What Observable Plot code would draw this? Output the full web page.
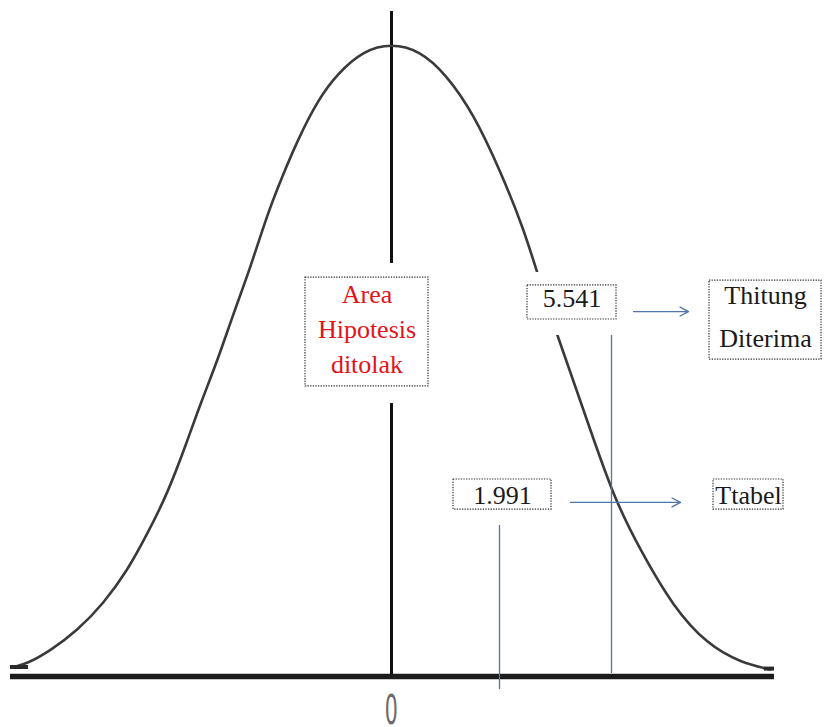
<!DOCTYPE html>
<html><head><meta charset="utf-8">
<script src="https://cdn.jsdelivr.net/npm/d3@7"></script>
<script src="https://cdn.jsdelivr.net/npm/@observablehq/plot@0.6"></script>
<style>html,body{margin:0;padding:0;background:#fff}</style>
</head><body><div id="chart"></div>
<script>
// Hand-drawn bell curve (t units, density units)
const curveT = [-2.669,-2.563,-2.401,-2.211,-2.028,-1.859,-1.718,-1.577,-1.437,-1.345,-1.225,-1.113,-0.993,-0.873,-0.761,-0.662,-0.521,-0.380,-0.197,0,0.197,0.380,0.577,0.768,0.930,1.028,1.169,1.352,1.563,1.754,1.986,2.225,2.458,2.669];
const curveDensity = [0.0057,0.0082,0.0164,0.0291,0.0461,0.0670,0.0904,0.1156,0.1491,0.1725,0.1997,0.2294,0.2585,0.2926,0.3178,0.3387,0.3640,0.3810,0.3956,0.4000,0.3956,0.3810,0.3558,0.3191,0.2831,0.2547,0.2148,0.1687,0.1131,0.0796,0.0436,0.0202,0.0088,0.0044];

// Small thick stubs at both tails of the drawing
const stubT1 = [-2.683, 2.627];
const stubT2 = [-2.556, 2.697];
const stubY = [0.0060, 0.0050];

// Axis extents
const baselineT = [-2.683, 2.697];
const axisTop = 0.4202;
const zeroLabel = "0";
const zeroLabelY = -0.0300;

// Critical values and where they are drawn on the t axis
const criticalLabels = ["1.991", "5.541"];
const criticalT = [0.7606, 1.5493];
const criticalLineTop = [0.0954, 0.2161];
const criticalLineBottom = [-0.0082, 0.0019];
const criticalLabelY = [0.1091, 0.2332];
const criticalBoxT1 = [0.4366, 0.9577];
const criticalBoxT2 = [1.1268, 1.5845];
const criticalBoxY1 = [0.1055, 0.2256];
const criticalBoxY2 = [0.1245, 0.2471];

// Arrows from the values to their names
const arrowT1 = [1.2606, 1.7042];
const arrowT2 = [2.0352, 2.0915];
const arrowY = [0.1100, 0.2306];

// Name boxes
const nameLines = [["Ttabel"], ["Thitung", "Diterima"]];
const nameLineY = [[0.1091], [0.2355, 0.2085]];
const nameCenterT = [2.5141, 2.6338];
const nameBoxT1 = [2.2676, 2.2394];
const nameBoxT2 = [2.7606, 3.0282];
const nameBoxY1 = [0.1055, 0.2003];
const nameBoxY2 = [0.1245, 0.2502];

// Red region label
const areaLines = ["Area", "Hipotesis", "ditolak"];
const areaLineY = [0.2363, 0.2136, 0.1915];
const areaCenterT = -0.1725;
const areaBox = {t1: -0.6056, t2: 0.2606, y1: 0.1833, y2: 0.2521};
const areaHalo = {t1: -0.6549, t2: 0.3099, y1: 0.1725, y2: 0.2610};
const criticalHalo = {t1: 0.9225, t2: 1.6197, y1: 0.2155, y2: 0.2553};

const curve = curveT.map((t, i) => ({t, d: curveDensity[i]}));
const stubs = stubT1.map((t1, i) => ({t1, t2: stubT2[i], y: stubY[i]}));
const crit = criticalLabels.map((label, i) => ({
  label, t: criticalT[i], top: criticalLineTop[i], bottom: criticalLineBottom[i], ly: criticalLabelY[i],
  t1: criticalBoxT1[i], t2: criticalBoxT2[i], y1: criticalBoxY1[i], y2: criticalBoxY2[i],
  tc: (criticalBoxT1[i] + criticalBoxT2[i]) / 2,
  at1: arrowT1[i], at2: arrowT2[i], ay: arrowY[i]
}));
const names = nameLines.flatMap((lines, i) => lines.map((text, j) => ({text, t: nameCenterT[i], y: nameLineY[i][j]})));
const nameBoxes = nameLines.map((_, i) => ({t1: nameBoxT1[i], t2: nameBoxT2[i], y1: nameBoxY1[i], y2: nameBoxY2[i]}));
const area = areaLines.map((text, i) => ({text, t: areaCenterT, y: areaLineY[i]}));

const blue = "#4f75ab";
const serif = "'Liberation Serif', 'Times New Roman', Times, serif";
const boxStyle = {x1: "t1", x2: "t2", y1: "y1", y2: "y2", fill: "white", stroke: "#333", strokeWidth: 1.2, strokeDasharray: "1.3,1.3"};

const plot = Plot.plot({
  width: 826, height: 727, margin: 0,
  x: {domain: [-2.75352, 3.06338], axis: null},
  y: {domain: [-0.032227, 0.427172], axis: null},
  style: {background: "white"},
  marks: [
    Plot.ruleX([0], {y1: 0, y2: axisTop, stroke: "#111", strokeWidth: 3}),
    Plot.line(curve, {x: "t", y: "d", curve: "basis", stroke: "#3a3a3a", strokeWidth: 2.6}),
    Plot.ruleY(stubs, {x1: "t1", x2: "t2", y: "y", stroke: "#2a2a2a", strokeWidth: 4}),
    Plot.ruleY([0], {x1: baselineT[0], x2: baselineT[1], stroke: "#1c1c1c", strokeWidth: 5.5}),
    Plot.ruleX(crit, {x: "t", y1: "bottom", y2: "top", stroke: blue, strokeWidth: 1.3}),
    Plot.rect([areaHalo, criticalHalo], {x1: "t1", x2: "t2", y1: "y1", y2: "y2", fill: "white"}),
    Plot.rect([areaBox], boxStyle),
    Plot.rect(crit, boxStyle),
    Plot.rect(nameBoxes, boxStyle),
    Plot.text(area, {x: "t", y: "y", text: "text", lineAnchor: "bottom", fill: "#e3121b", fontSize: 26, fontFamily: serif}),
    Plot.text(crit, {x: "tc", y: "ly", text: "label", lineAnchor: "bottom", fill: "#1a1a1a", fontSize: 26, fontFamily: serif}),
    Plot.text(names, {x: "t", y: "y", text: "text", lineAnchor: "bottom", fill: "#1a1a1a", fontSize: 26, fontFamily: serif}),
    Plot.arrow(crit, {x1: "at1", x2: "at2", y1: "ay", y2: "ay", stroke: blue, strokeWidth: 1.3, headLength: 11, headAngle: 55}),
    Plot.text([{t: 0, label: zeroLabel}], {x: "t", y: () => zeroLabelY, text: "label", lineAnchor: "bottom", fill: "#6a6a6a", fontSize: 41, fontFamily: "DejaVu Sans"})
  ]
});

// Narrow the "0" tick label like the original
const cx = plot.scale("x").apply(0);
d3.select(plot).selectAll("text").filter(function() { return this.textContent === zeroLabel; }).each(function() {
  const g = this.parentNode;
  const prev = g.getAttribute("transform") || "";
  g.setAttribute("transform", `translate(${cx},0) scale(0.5,1) translate(${-cx},0) ${prev}`);
});

document.getElementById("chart").appendChild(plot);
</script>
</body></html>
